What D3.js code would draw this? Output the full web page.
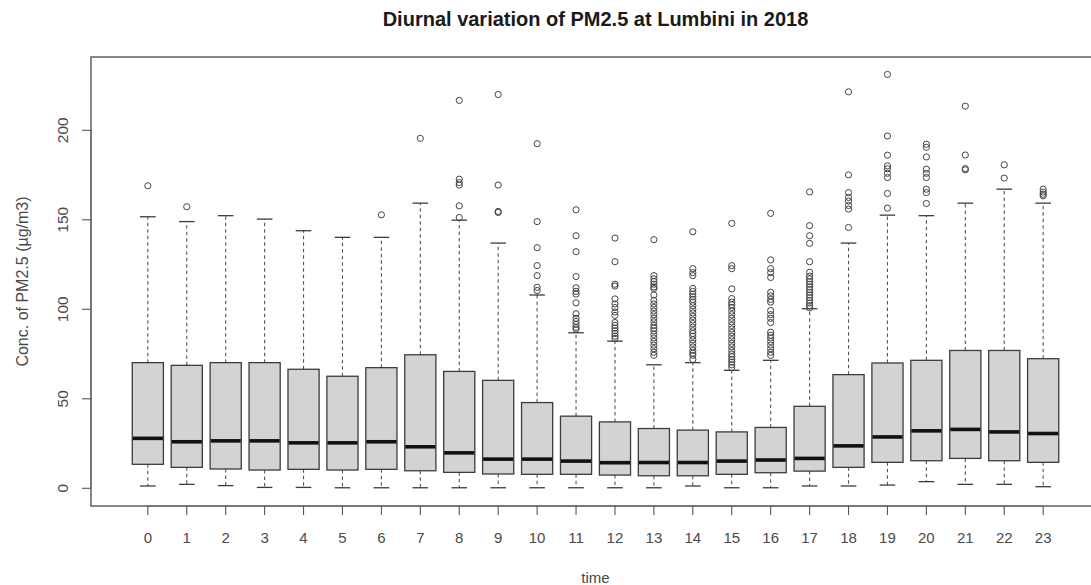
<!DOCTYPE html>
<html>
<head>
<meta charset="utf-8">
<script src="https://cdn.jsdelivr.net/npm/d3@7"></script>
<style>
  html, body { margin: 0; padding: 0; background: #fff; }
  svg { display: block; }
  text { font-family: "Liberation Sans", Arial, sans-serif; }
</style>
</head>
<body>
<svg id="chart" width="1091" height="585"></svg>
<script>
// ---- data ----
const hours = ["0","1","2","3","4","5","6","7","8","9","10","11","12","13","14","15","16","17","18","19","20","21","22","23"];
const whiskerLow  = [1.3, 2.2, 1.5, 0.5, 0.5, 0.3, 0.3, 0.3, 0.3, 0.3, 0.3, 0.3, 0.3, 0.3, 1.3, 0.3, 0.3, 1.3, 1.3, 1.8, 3.7, 2.2, 2.2, 0.9];
const q1          = [13.4, 11.7, 10.8, 10.2, 10.6, 10.2, 10.6, 9.8, 8.9, 8.0, 7.8, 7.8, 7.4, 7.0, 7.0, 7.8, 8.7, 9.6, 11.7, 14.5, 15.4, 16.7, 15.4, 14.5];
const medians     = [27.9, 26.0, 26.5, 26.5, 25.4, 25.4, 26.0, 23.2, 19.8, 16.3, 16.3, 15.2, 14.3, 14.4, 14.4, 15.2, 15.8, 16.7, 23.7, 28.7, 32.1, 32.9, 31.5, 30.6];
const q3          = [70.2, 68.7, 70.2, 70.2, 66.5, 62.6, 67.4, 74.6, 65.3, 60.3, 47.9, 40.3, 37.1, 33.4, 32.5, 31.5, 34.0, 45.8, 63.5, 70.0, 71.5, 77.0, 77.0, 72.4];
const whiskerHigh = [151.7, 149.0, 152.3, 150.4, 143.9, 140.2, 140.2, 159.3, 149.8, 137.0, 108.0, 86.9, 82.2, 69.0, 70.2, 65.9, 71.5, 100.3, 137.0, 152.6, 152.3, 159.3, 167.1, 159.3];
const outliers = [
  [169.0],
  [157.3],
  [],
  [],
  [],
  [],
  [152.8],
  [195.5],
  [216.7, 172.7, 170.8, 169.4, 157.8, 151.3],
  [220.0, 169.4, 154.7, 154.1],
  [192.5, 149.0, 134.4, 124.4, 118.8, 112.3, 110.5],
  [155.6, 141.1, 132.2, 118.3, 112.0, 110.0, 108.5, 103.6, 97.5, 95.0, 93.2, 91.5, 90.0, 89.0],
  [139.8, 126.6, 114.0, 113.0, 105.8, 103.0, 101.0, 98.5, 96.6, 92.6, 91.0, 89.5, 88.0, 86.5, 85.0, 83.8],
  [138.9, 118.8, 117.0, 115.5, 114.0, 112.5, 111.6, 108.0, 105.0, 103.0, 101.0, 99.0, 97.0, 95.0, 93.0, 91.0, 89.5, 88.0, 86.0, 84.0, 82.0, 80.0, 78.0, 76.0, 74.3],
  [143.3, 122.7, 120.5, 118.8, 111.6, 110.0, 108.5, 107.0, 105.5, 104.0, 102.0, 100.0, 98.0, 96.0, 94.0, 92.0, 90.0, 88.0, 86.5, 85.0, 83.0, 81.0, 79.0, 77.0, 75.5, 74.3, 72.0],
  [148.0, 124.4, 122.7, 111.4, 106.0, 104.0, 102.5, 101.0, 99.0, 97.0, 95.0, 93.0, 91.0, 89.0, 87.0, 85.0, 83.0, 81.0, 79.0, 77.0, 75.0, 73.5, 72.0, 70.5, 69.0, 67.5],
  [153.6, 127.6, 122.7, 120.5, 117.8, 109.5, 107.5, 105.5, 104.0, 99.3, 97.0, 95.0, 92.6, 87.2, 85.5, 84.0, 82.0, 80.0, 78.0, 76.0, 74.3],
  [165.6, 146.7, 141.1, 136.8, 126.6, 120.7, 118.5, 117.0, 115.5, 114.0, 112.5, 111.0, 109.5, 108.0, 106.5, 105.0, 103.5, 102.0, 100.8],
  [221.5, 175.1, 165.2, 162.5, 160.5, 158.0, 156.0, 145.7],
  [231.2, 196.8, 186.1, 180.1, 178.5, 176.0, 173.6, 164.7, 156.5],
  [192.2, 190.5, 185.1, 178.3, 176.0, 173.6, 167.1, 165.2, 159.1],
  [213.5, 186.2, 178.6, 177.9],
  [180.7, 173.3],
  [167.1, 165.5, 164.3, 163.4]
];
const yTicks = [0, 50, 100, 150, 200];
const titleText = "Diurnal variation of PM2.5 at Lumbini in 2018";
const xLabel = "time";
const yLabel = "Conc. of PM2.5 (\u00B5g/m3)";

// ---- layout ----
const svg = d3.select("#chart");
const plotLeft = 91, plotRight = 1100, plotTop = 57, plotBottom = 506;
const n = hours.length;
const xPad = n * 0.04;
const x = d3.scaleLinear().domain([0.5 - xPad, n + 0.5 + xPad]).range([plotLeft, plotRight]);
const y = d3.scaleLinear().domain([0, 200]).range([488.3, 130.3]);
const unit = x(2) - x(1);
const boxW = unit * 0.8;
const capW = boxW * 0.5;

const textCol = "#4a4a4a";
const lineCol = "#3c3c3c";

// frame
svg.append("rect")
  .attr("x", plotLeft).attr("y", plotTop)
  .attr("width", plotRight - plotLeft).attr("height", plotBottom - plotTop)
  .attr("fill", "none").attr("stroke", "#6a6a6a").attr("stroke-width", 1.6);

const g = svg.append("g");
const items = hours.map((h, i) => ({
  h, pos: i + 1, lo: whiskerLow[i], q1: q1[i], med: medians[i], q3: q3[i], hi: whiskerHigh[i], out: outliers[i]
}));

const box = g.selectAll("g.box").data(items).join("g").attr("class", "box");

// whiskers (dashed)
box.append("line")
  .attr("x1", d => x(d.pos)).attr("x2", d => x(d.pos))
  .attr("y1", d => y(d.q3)).attr("y2", d => y(d.hi))
  .attr("stroke", "#555").attr("stroke-width", 1.1).attr("stroke-dasharray", "3.5,3");
box.append("line")
  .attr("x1", d => x(d.pos)).attr("x2", d => x(d.pos))
  .attr("y1", d => y(d.q1)).attr("y2", d => y(d.lo))
  .attr("stroke", "#555").attr("stroke-width", 1.1).attr("stroke-dasharray", "3.5,3");
// caps
box.append("line")
  .attr("x1", d => x(d.pos) - capW / 2).attr("x2", d => x(d.pos) + capW / 2)
  .attr("y1", d => y(d.hi)).attr("y2", d => y(d.hi))
  .attr("stroke", lineCol).attr("stroke-width", 1.3);
box.append("line")
  .attr("x1", d => x(d.pos) - capW / 2).attr("x2", d => x(d.pos) + capW / 2)
  .attr("y1", d => y(d.lo)).attr("y2", d => y(d.lo))
  .attr("stroke", lineCol).attr("stroke-width", 1.3);
// box
box.append("rect")
  .attr("x", d => x(d.pos) - boxW / 2).attr("width", boxW)
  .attr("y", d => y(d.q3)).attr("height", d => y(d.q1) - y(d.q3))
  .attr("fill", "#d3d3d3").attr("stroke", lineCol).attr("stroke-width", 1.3);
// median
box.append("line")
  .attr("x1", d => x(d.pos) - boxW / 2 + 0.5).attr("x2", d => x(d.pos) + boxW / 2 - 0.5)
  .attr("y1", d => y(d.med)).attr("y2", d => y(d.med))
  .attr("stroke", "#111").attr("stroke-width", 3.6);
// outliers
box.selectAll("circle").data(d => d.out.map(v => ({ pos: d.pos, v }))).join("circle")
  .attr("cx", d => x(d.pos)).attr("cy", d => y(d.v)).attr("r", 3.1)
  .attr("fill", "none").attr("stroke", "#444").attr("stroke-width", 1);

// x axis
const xAxisG = svg.append("g");
xAxisG.append("line")
  .attr("x1", x(1)).attr("x2", x(n)).attr("y1", plotBottom).attr("y2", plotBottom)
  .attr("stroke", "#6a6a6a").attr("stroke-width", 1.2);
xAxisG.selectAll("line.tick").data(hours).join("line").attr("class", "tick")
  .attr("x1", (d, i) => x(i + 1)).attr("x2", (d, i) => x(i + 1))
  .attr("y1", plotBottom).attr("y2", plotBottom + 9)
  .attr("stroke", "#555").attr("stroke-width", 1.1);
xAxisG.selectAll("text").data(hours).join("text")
  .attr("x", (d, i) => x(i + 1)).attr("y", 537)
  .attr("text-anchor", "middle").attr("dominant-baseline", "central")
  .attr("font-size", 15).attr("fill", textCol)
  .text(d => d);

// y axis
const yAxisG = svg.append("g");
yAxisG.append("line")
  .attr("x1", plotLeft).attr("x2", plotLeft).attr("y1", y(0)).attr("y2", y(200))
  .attr("stroke", "#6a6a6a").attr("stroke-width", 1.2);
yAxisG.selectAll("line.tick").data(yTicks).join("line").attr("class", "tick")
  .attr("x1", plotLeft - 9).attr("x2", plotLeft)
  .attr("y1", d => y(d)).attr("y2", d => y(d))
  .attr("stroke", "#555").attr("stroke-width", 1.1);
yAxisG.selectAll("text").data(yTicks).join("text")
  .attr("transform", d => `translate(62,${y(d)}) rotate(-90)`)
  .attr("text-anchor", "middle").attr("dominant-baseline", "central")
  .attr("font-size", 15.5).attr("fill", textCol)
  .text(d => d);

// labels
svg.append("text")
  .attr("x", (plotLeft + plotRight) / 2).attr("y", 19)
  .attr("text-anchor", "middle").attr("dominant-baseline", "central")
  .attr("font-size", 20).attr("font-weight", "bold").attr("fill", "#1a1a1a")
  .text(titleText);
svg.append("text")
  .attr("x", x((1 + n) / 2)).attr("y", 577)
  .attr("text-anchor", "middle").attr("dominant-baseline", "central")
  .attr("font-size", 15).attr("fill", textCol)
  .text(xLabel);
svg.append("text")
  .attr("transform", `translate(22,${(plotTop + plotBottom) / 2}) rotate(-90)`)
  .attr("text-anchor", "middle").attr("dominant-baseline", "central")
  .attr("font-size", 16).attr("fill", textCol)
  .text(yLabel);
</script>
</body>
</html>
